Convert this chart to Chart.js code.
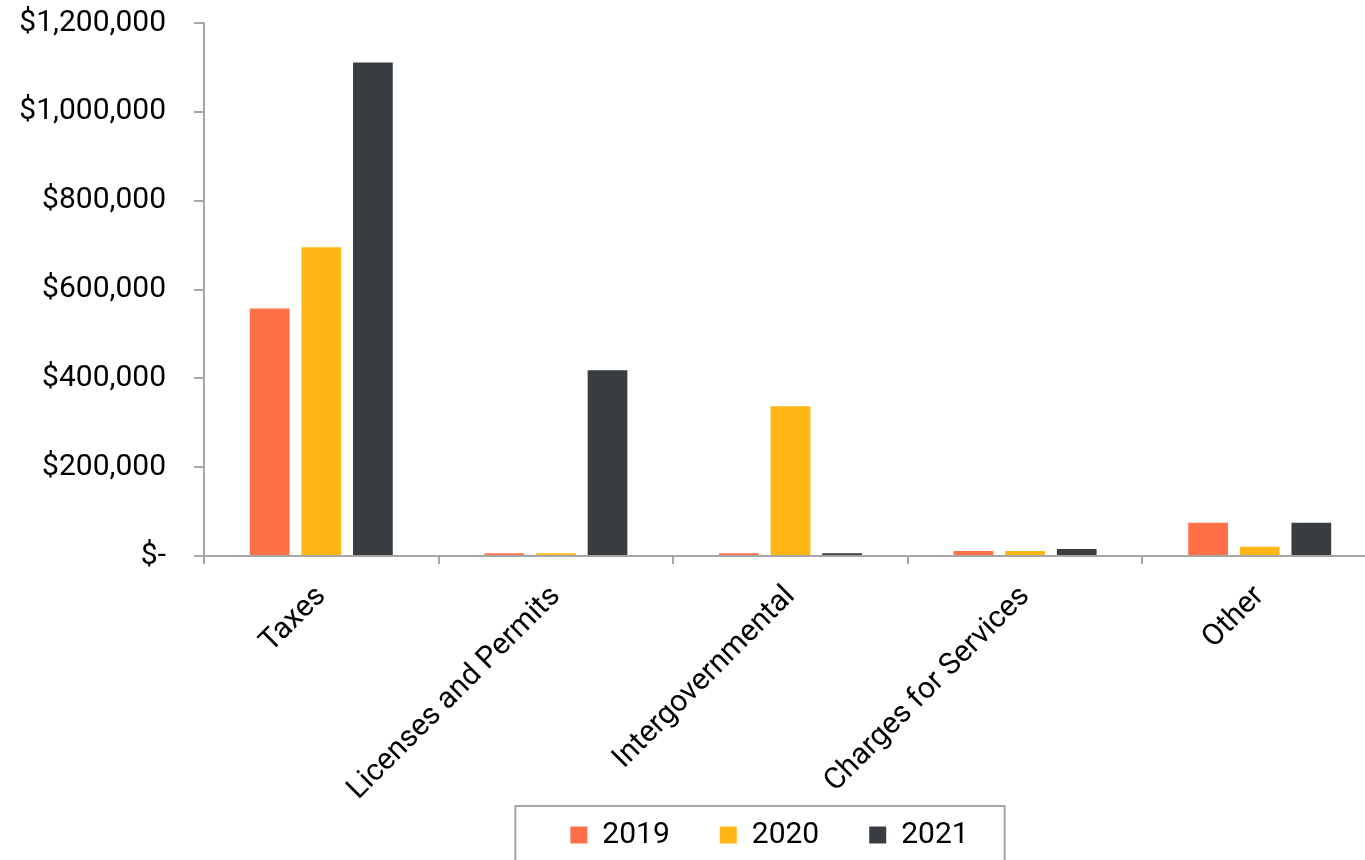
<!DOCTYPE html>
<html>
<head>
<meta charset="utf-8">
<script src="https://cdn.jsdelivr.net/npm/chart.js@4"></script>
<style>
  html, body { margin: 0; padding: 0; overflow: hidden; background: #fff; }
  #wrap { position: relative; width: 1377px; height: 880px; }
</style>
</head>
<body>
<div id="wrap"><canvas id="revChart"></canvas></div>
<script>
// data
const categories = ['Taxes', 'Licenses and Permits', 'Intergovernmental', 'Charges for Services', 'Other'];
const years = ['2019', '2020', '2021'];
const values2019 = [557000, 6000, 6000, 11000, 75000];
const values2020 = [695000, 6000, 337000, 11000, 21000];
const values2021 = [1111000, 418000, 6000, 16000, 75000];
const yTicks = [0, 200000, 400000, 600000, 800000, 1000000, 1200000];

const colors = ['#FF7049', '#FFB715', '#393D41'];
const axisGray = '#A6A6A6';
const font = "Roboto, 'Noto Sans', sans-serif";
const legendPad = 50;

// move legend right (it sits off-centre in the reference) and let x labels run under it
const legendShift = {
    id: 'legendShift',
    afterLayout(chart) {
        const lg = chart.legend;
        lg.left += 81;
        lg.right += 81;
        chart.scales.x.bottom = chart.height;
    }
};

// frame round the legend, like the reference
const legendFrame = {
    id: 'legendFrame',
    afterDraw(chart) {
        const lg = chart.legend;
        if (!lg || !lg.lineWidths) return;
        const lineW = lg.lineWidths[0] - legendPad;
        const start = (lg.left + legendPad + lg.right - lg.lineWidths[0]) / 2;
        const left = start - 55;
        const right = start + lineW + 36;
        const top = lg.top + 36;
        const ctx = chart.ctx;
        ctx.save();
        ctx.strokeStyle = axisGray;
        ctx.lineWidth = 2;
        ctx.strokeRect(left, top, right - left, 120);
        ctx.restore();
    }
};

const ctx = document.getElementById('revChart');
new Chart(ctx, {
    type: 'bar',
    data: {
        labels: categories,
        datasets: [values2019, values2020, values2021].map((vals, i) => ({
            label: years[i],
            data: vals,
            backgroundColor: colors[i],
            borderWidth: 0,
            categoryPercentage: 0.66,
            barPercentage: 0.77
        }))
    },
    options: {
        responsive: true,
        maintainAspectRatio: false,
        animation: false,
        layout: { padding: { left: 0, right: 0, top: 23, bottom: 20 } },
        plugins: {
            tooltip: { enabled: false },
            legend: {
                position: 'bottom',
                labels: {
                    boxWidth: 17,
                    boxHeight: 17,
                    padding: legendPad,
                    color: '#000',
                    font: { family: font, size: 30 }
                }
            }
        },
        scales: {
            x: {
                grid: { display: true, drawOnChartArea: false, drawTicks: true, tickLength: 8, color: axisGray, lineWidth: 2 },
                border: { display: true, color: axisGray, width: 2 },
                ticks: {
                    autoSkip: false,
                    minRotation: 45,
                    maxRotation: 45,
                    padding: 15,
                    color: '#000',
                    font: { family: font, size: 30 }
                },
                afterFit(scale) { scale.height = 214; }
            },
            y: {
                min: 0,
                max: 1200000,
                afterBuildTicks(scale) { scale.ticks = yTicks.map(v => ({ value: v })); },
                grid: { display: true, drawOnChartArea: false, drawTicks: true, tickLength: 10, color: axisGray, lineWidth: 2 },
                border: { display: true, color: axisGray, width: 2 },
                ticks: {
                    padding: 28,
                    color: '#000',
                    font: { family: font, size: 30 },
                    callback: v => v === 0 ? '$-' : '$' + v.toLocaleString('en-US')
                },
                afterFit(scale) {
                    scale.width = 204;
                    scale.paddingTop = 0;
                    scale.paddingBottom = 0;
                }
            }
        }
    },
    plugins: [legendShift, legendFrame]
});
</script>
</body>
</html>
